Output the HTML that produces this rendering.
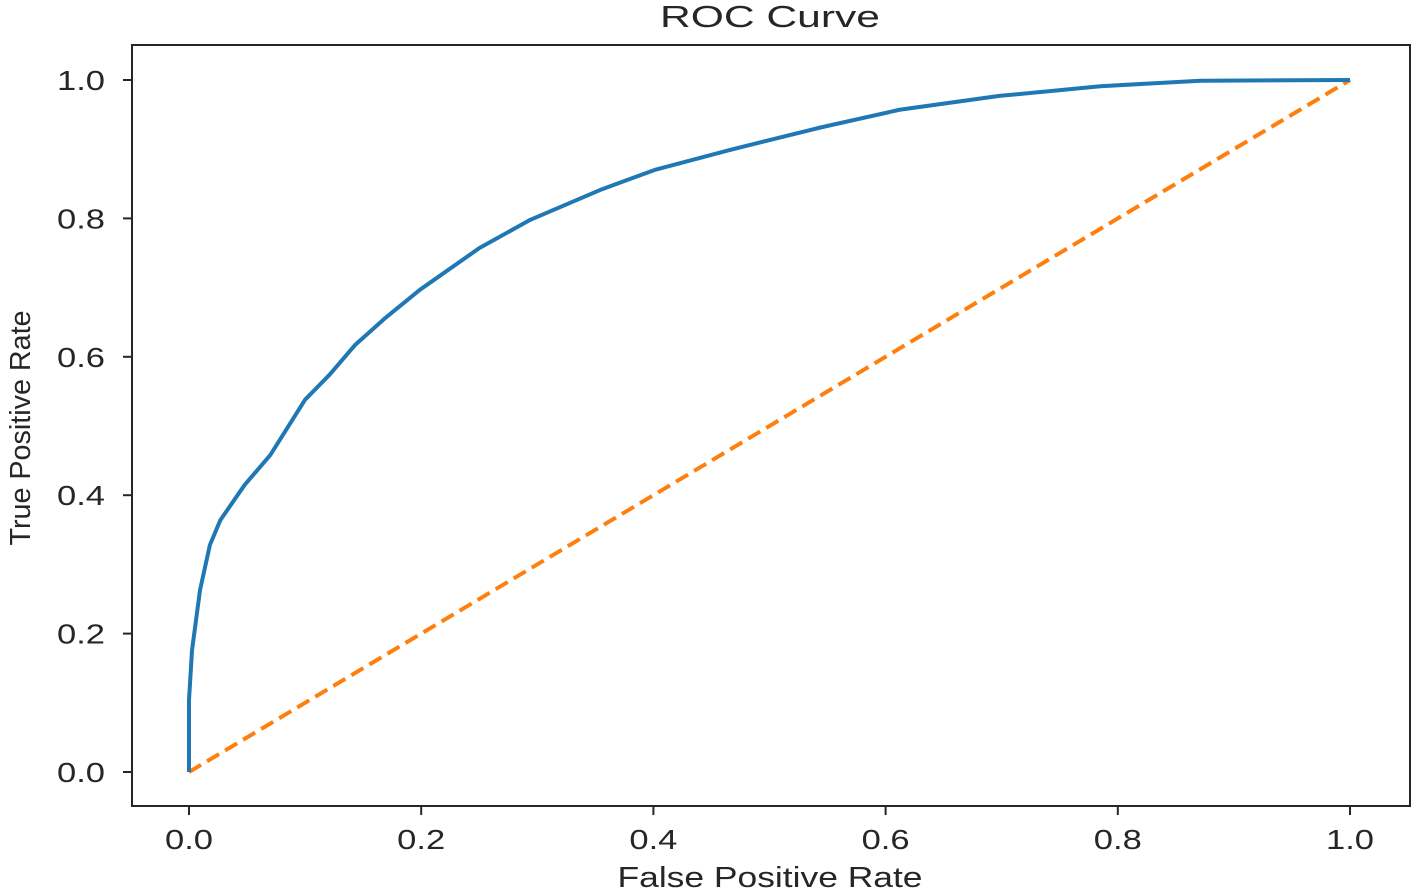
<!DOCTYPE html>
<html><head><meta charset="utf-8"><style>
html,body{margin:0;padding:0;background:#fff;}
svg{display:block;font-family:"Liberation Sans",sans-serif;}
</style></head><body>
<svg id="chart" width="1417" height="892" viewBox="0 0 1417 892" xmlns="http://www.w3.org/2000/svg">
<text x="770" y="27" text-anchor="middle" font-size="31" fill="#262626" textLength="220" lengthAdjust="spacingAndGlyphs">ROC Curve</text>
<rect x="132" y="45" width="1278" height="761" fill="none" stroke="#262626" stroke-width="2"/>
<g id="axes"></g>
<path id="diag" fill="none" stroke="#ff7f0e" stroke-width="4" stroke-dasharray="14,7"/>
<path id="roc" fill="none" stroke="#1f77b4" stroke-width="4" stroke-linejoin="round"/>
<text x="770" y="887" text-anchor="middle" font-size="29" fill="#262626" textLength="305" lengthAdjust="spacingAndGlyphs">False Positive Rate</text>
<text transform="translate(30,428) rotate(-90)" text-anchor="middle" font-size="29" fill="#262626" textLength="235" lengthAdjust="spacingAndGlyphs">True Positive Rate</text>
</svg>
<script>
const fpr=[0,0,0.0026,0.0095,0.018,0.027,0.048,0.07,0.1,0.121,0.143,0.169,0.199,0.25,0.294,0.354,0.401,0.466,0.543,0.612,0.698,0.785,0.871,1];
const tpr=[0,0.104,0.176,0.263,0.328,0.364,0.415,0.458,0.538,0.574,0.617,0.656,0.697,0.757,0.798,0.841,0.870,0.899,0.931,0.957,0.977,0.991,0.999,1];
const diagX=[0,1];
const diagY=[0,1];
const xTicks=[0,0.2,0.4,0.6,0.8,1.0];
const yTicks=[0,0.2,0.4,0.6,0.8,1.0];
const xs=v=>189+v*1161;
const ys=v=>772-v*692;
const ns="http://www.w3.org/2000/svg";
document.getElementById('roc').setAttribute('d',fpr.map((x,i)=>(i?'L':'M')+xs(x)+','+ys(tpr[i])).join(''));
document.getElementById('diag').setAttribute('d',diagX.map((x,i)=>(i?'L':'M')+xs(x)+','+ys(diagY[i])).join(''));
const g=document.getElementById('axes');
xTicks.forEach(t=>{
  const l=document.createElementNS(ns,'line');
  
  
  l.setAttribute('x1',xs(t));l.setAttribute('x2',xs(t));l.setAttribute('y1',806);l.setAttribute('y2',815);
  l.setAttribute('stroke','#262626');l.setAttribute('stroke-width','2');g.appendChild(l);
  const tx=document.createElementNS(ns,'text');
  
  
  tx.setAttribute('x',xs(t));tx.setAttribute('y',849);tx.setAttribute('text-anchor','middle');
  tx.setAttribute('textLength','48');tx.setAttribute('lengthAdjust','spacingAndGlyphs');
  tx.setAttribute('font-size','28');tx.setAttribute('fill','#262626');tx.textContent=t.toFixed(1);g.appendChild(tx);
});
yTicks.forEach(t=>{
  const l=document.createElementNS(ns,'line');
  
  
  l.setAttribute('x1',123);l.setAttribute('x2',132);l.setAttribute('y1',ys(t));l.setAttribute('y2',ys(t));
  l.setAttribute('stroke','#262626');l.setAttribute('stroke-width','2');g.appendChild(l);
  const tx=document.createElementNS(ns,'text');
  
  
  tx.setAttribute('x',105);tx.setAttribute('y',ys(t)+10);tx.setAttribute('text-anchor','end');
  tx.setAttribute('textLength','48');tx.setAttribute('lengthAdjust','spacingAndGlyphs');
  tx.setAttribute('font-size','28');tx.setAttribute('fill','#262626');tx.textContent=t.toFixed(1);g.appendChild(tx);
});
</script>
</body></html>
